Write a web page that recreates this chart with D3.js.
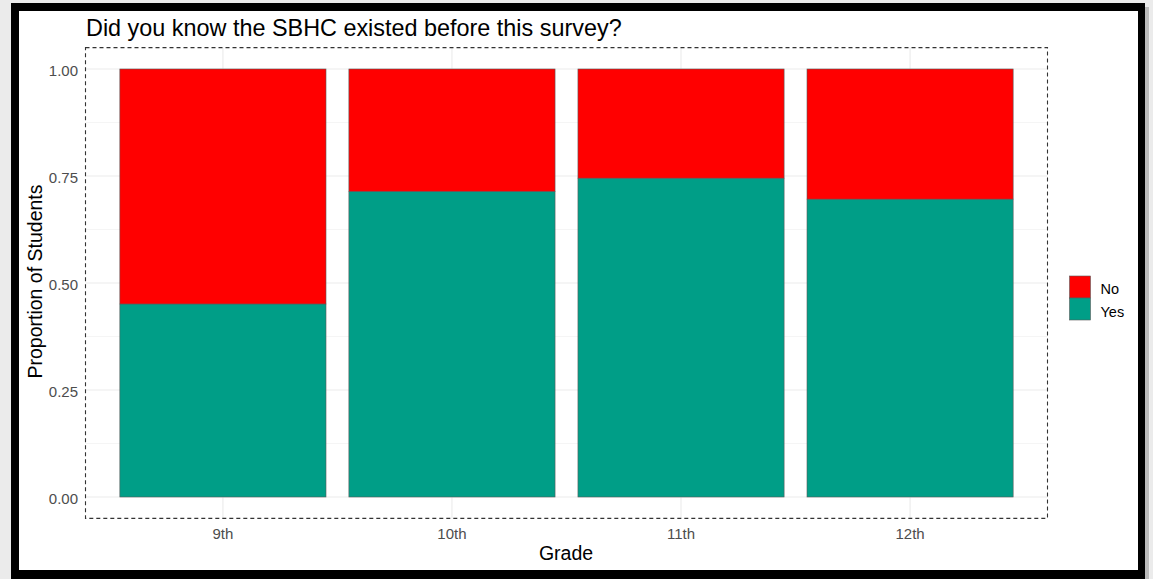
<!DOCTYPE html>
<html><head><meta charset="utf-8">
<script src="https://cdn.jsdelivr.net/npm/d3@7"></script>
<style>
html,body{margin:0;padding:0;background:#ebebeb;}
svg{display:block;font-family:"Liberation Sans",Arial,sans-serif;}
</style></head>
<body><svg id="c" width="1153" height="579"></svg>
<script>
const grades = ["9th","10th","11th","12th"];
const yesValues = [0.451, 0.714, 0.745, 0.696];
const noValues = yesValues.map(v => 1 - v);
const seriesNames = ["No","Yes"];
const seriesColors = ["#ff0000","#009e87"];
const yTicks = [0, 0.25, 0.5, 0.75, 1];
const yMinor = [0.125, 0.375, 0.625, 0.875];

const svg = d3.select("#c");
// frame
svg.append("rect").attr("x",0).attr("y",0).attr("width",1153).attr("height",579).attr("fill","#ebebeb");
svg.append("rect").attr("x",1141).attr("y",7).attr("width",8).attr("height",572).attr("fill","#9a9a9a").attr("opacity",0.6);
svg.append("rect").attr("x",11).attr("y",3).attr("width",1134).attr("height",576).attr("fill","#000");
svg.append("rect").attr("x",19).attr("y",11).attr("width",1119).attr("height",559).attr("fill","#fff");

const panel = {x0:85.5, x1:1047.5, y0:47.6, y1:518.4};
const step = (panel.x1 - panel.x0) / (grades.length + 0.2);
const xc = d3.scalePoint().domain(grades).range([panel.x0 + 0.6*step, panel.x1 - 0.6*step]);
const bw = 0.9*step;
const y = d3.scaleLinear().domain([-0.05, 1.05]).range([panel.y1, panel.y0]);

const g = svg.append("g");
// minor grid
g.selectAll(".ym").data(yMinor).enter().append("line")
  .attr("x1",panel.x0).attr("x2",panel.x1).attr("y1",d=>y(d)).attr("y2",d=>y(d))
  .attr("stroke","#f2f2f2").attr("stroke-width",0.8);
// major grid
g.selectAll(".yM").data(yTicks).enter().append("line")
  .attr("x1",panel.x0).attr("x2",panel.x1).attr("y1",d=>y(d)).attr("y2",d=>y(d))
  .attr("stroke","#ebebeb").attr("stroke-width",1.1);
g.selectAll(".xM").data(grades).enter().append("line")
  .attr("x1",d=>xc(d)).attr("x2",d=>xc(d)).attr("y1",panel.y0).attr("y2",panel.y1)
  .attr("stroke","#ebebeb").attr("stroke-width",1.1);

// stacked bars
const rows = grades.map((gr,i)=>({grade:gr, Yes:yesValues[i], No:noValues[i]}));
const stack = d3.stack().keys(["Yes","No"])(rows);
const color = d3.scaleOrdinal().domain(seriesNames).range(seriesColors);
stack.forEach(layer=>{
  g.selectAll(".b"+layer.key).data(layer).enter().append("rect")
    .attr("x",d=>xc(d.data.grade)-bw/2).attr("width",bw)
    .attr("y",d=>y(d[1])).attr("height",d=>y(d[0])-y(d[1]))
    .attr("fill",color(layer.key)).attr("stroke","#595959").attr("stroke-width",0.6);
});

// dashed panel border
svg.append("rect").attr("x",panel.x0).attr("y",panel.y0)
  .attr("width",panel.x1-panel.x0).attr("height",panel.y1-panel.y0)
  .attr("fill","none").attr("stroke","#333").attr("stroke-width",1.1).attr("stroke-dasharray","4,3");

// axes labels
svg.append("g").selectAll("text").data(yTicks).enter().append("text")
  .attr("x",78).attr("y",d=>y(d)+6.5).attr("text-anchor","end")
  .attr("font-size",15).attr("fill","#4d4d4d").text(d=>d3.format(".2f")(d));
svg.append("g").selectAll("text").data(grades).enter().append("text")
  .attr("x",d=>xc(d)).attr("y",539).attr("text-anchor","middle")
  .attr("font-size",15).attr("fill","#4d4d4d").text(d=>d);

svg.append("text").attr("x",566).attr("y",560).attr("text-anchor","middle")
  .attr("font-size",19.5).attr("fill","#000").text("Grade");
svg.append("text").attr("transform","translate(42,281.5) rotate(-90)").attr("text-anchor","middle")
  .attr("font-size",19.5).attr("fill","#000").text("Proportion of Students");
svg.append("text").attr("x",86).attr("y",36).attr("font-size",23.4).attr("fill","#000")
  .text("Did you know the SBHC existed before this survey?");

// legend
const leg = svg.append("g");
seriesNames.forEach((s,i)=>{
  leg.append("rect").attr("x",1069.5).attr("y",276+i*22).attr("width",21).attr("height",22)
    .attr("fill",seriesColors[i]).attr("stroke","#595959").attr("stroke-width",0.6);
  leg.append("text").attr("x",1100.5).attr("y",294+i*22.5).attr("font-size",14.5).attr("fill","#000").text(s);
});
</script></body></html>
